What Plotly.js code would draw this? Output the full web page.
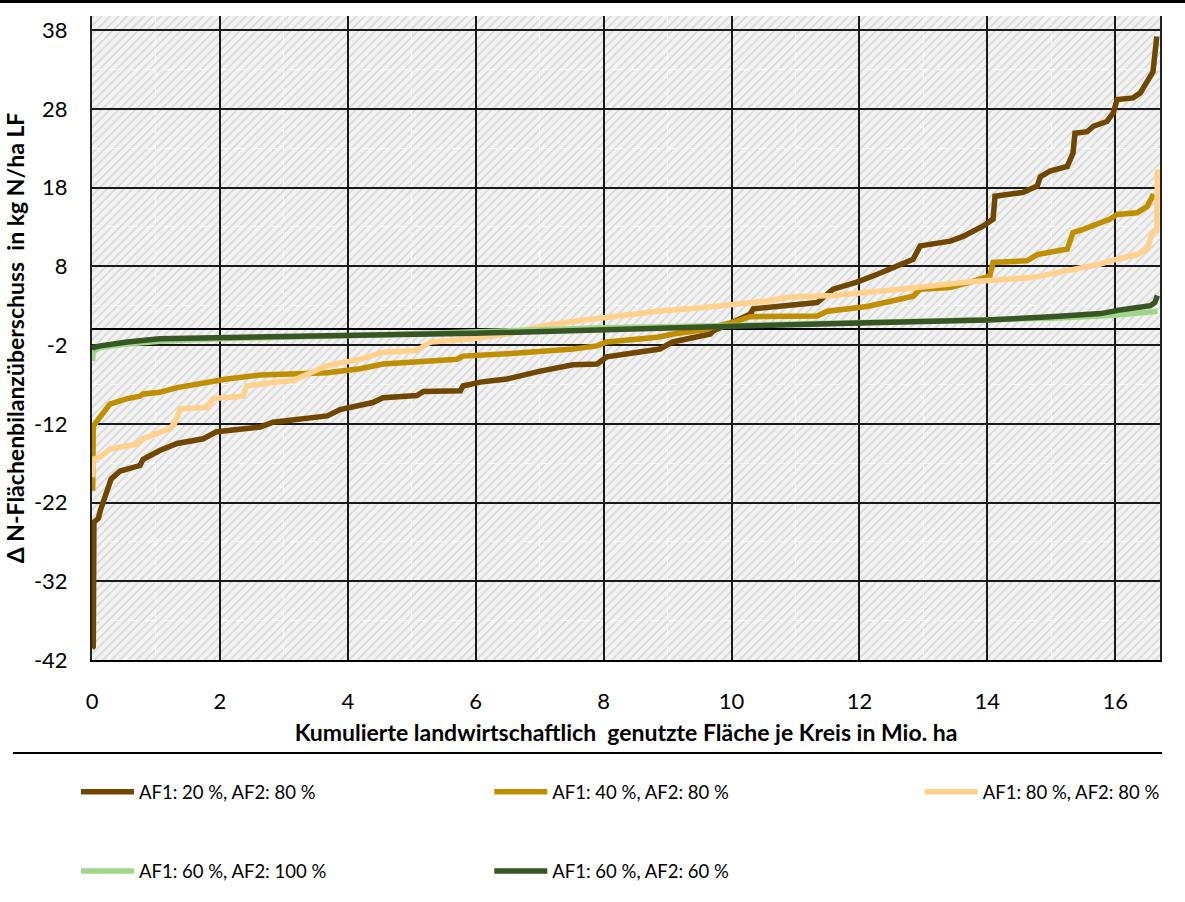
<!DOCTYPE html>
<html>
<head>
<meta charset="utf-8">
<script src="https://cdn.plot.ly/plotly-3.0.1.min.js"></script>
<style>
html,body{margin:0;padding:0;background:#fff;}
#chart{width:1185px;height:902px;}
</style>
</head>
<body>
<div id="chart"></div>
<script>
// ---- Data ----
const seriesNames = [
  "AF1: 20 %, AF2: 80 %",
  "AF1: 40 %, AF2: 80 %",
  "AF1: 80 %, AF2: 80 %",
  "AF1: 60 %, AF2: 100 %",
  "AF1: 60 %, AF2: 60 %"
];

const brownX = [0, 0.02, 0.03, 0.10, 0.13, 0.17, 0.23, 0.30, 0.44, 0.75, 0.80, 1.06, 1.33, 1.74, 1.95, 2.63, 2.83, 3.68, 3.88, 4.19, 4.39, 4.55, 5.08, 5.18, 5.76, 5.80, 6.07, 6.49, 7.01, 7.52, 7.90, 8.05, 8.57, 8.88, 9.08, 9.35, 9.51, 9.67, 9.71, 10.03, 10.29, 10.34, 11.34, 11.59, 11.96, 12.28, 12.64, 12.84, 12.95, 13.42, 13.62, 13.93, 14.09, 14.12, 14.56, 14.78, 14.83, 14.98, 15.25, 15.34, 15.37, 15.56, 15.66, 15.87, 15.97, 16.03, 16.28, 16.39, 16.59, 16.65];
const brownY = [-40.5, -40.3, -24.5, -24.0, -23.0, -22.0, -20.3, -19.0, -18.0, -17.3, -16.5, -15.4, -14.5, -13.9, -13.0, -12.4, -11.8, -11.0, -10.2, -9.7, -9.3, -8.7, -8.4, -7.9, -7.8, -7.2, -6.7, -6.3, -5.3, -4.5, -4.4, -3.5, -2.9, -2.5, -1.6, -1.2, -1.0, -0.6, -0.2, 1.0, 1.9, 2.6, 3.4, 5.1, 6.0, 7.0, 8.3, 8.9, 10.6, 11.2, 11.8, 13.1, 14.0, 16.9, 17.4, 18.2, 19.4, 20.1, 20.7, 22.4, 24.9, 25.1, 25.8, 26.4, 27.5, 29.2, 29.4, 30.0, 32.7, 37.2];

const goldX = [0.01, 0.02, 0.13, 0.23, 0.28, 0.55, 0.75, 0.80, 1.06, 1.33, 1.85, 2.11, 2.63, 3.68, 4.19, 4.55, 5.71, 5.80, 6.49, 7.52, 7.90, 8.05, 8.84, 9.09, 9.62, 9.71, 10.03, 10.29, 11.34, 11.50, 12.12, 12.43, 12.84, 12.95, 13.42, 13.73, 14.04, 14.09, 14.62, 14.78, 15.25, 15.34, 15.50, 15.92, 16.03, 16.34, 16.50, 16.60];
const goldY = [-20.5, -12.3, -11.1, -10.1, -9.5, -8.8, -8.5, -8.2, -8.0, -7.4, -6.7, -6.3, -5.8, -5.5, -5.0, -4.4, -3.8, -3.4, -3.1, -2.5, -2.1, -1.6, -1.0, -0.6, 0.0, 0.3, 0.9, 1.6, 1.7, 2.3, 2.9, 3.4, 4.2, 5.1, 5.3, 6.0, 6.8, 8.5, 8.7, 9.5, 10.2, 12.3, 12.7, 14.0, 14.6, 14.8, 15.6, 17.2];

const peachX = [0.01, 0.02, 0.13, 0.28, 0.55, 0.70, 0.80, 1.06, 1.22, 1.30, 1.38, 1.80, 1.89, 2.36, 2.42, 2.89, 3.14, 3.68, 4.03, 4.19, 4.55, 5.08, 5.29, 5.96, 6.49, 7.01, 7.52, 8.05, 8.57, 8.84, 9.62, 10.13, 10.56, 10.92, 11.59, 12.64, 13.69, 14.72, 15.25, 15.77, 15.92, 16.34, 16.50, 16.58, 16.65, 16.66];
const peachY = [-18.8, -16.5, -16.2, -15.2, -14.8, -14.6, -13.9, -13.0, -12.6, -11.8, -10.1, -9.9, -8.8, -8.5, -7.2, -6.7, -6.5, -4.6, -4.0, -3.8, -2.9, -2.7, -1.6, -1.2, -0.6, 0.4, 1.0, 1.5, 1.9, 2.3, 2.8, 3.2, 3.6, 4.1, 4.3, 5.1, 6.0, 6.6, 7.4, 8.3, 8.7, 9.5, 10.2, 12.3, 12.7, 20.3];

const lightGreenX = [0.01, 0.02, 0.13, 0.50, 1.06, 2.00, 4.00, 6.00, 8.00, 10.00, 12.00, 14.00, 15.00, 16.00, 16.66];
const lightGreenY = [-4.0, -2.8, -2.3, -1.9, -1.5, -1.2, -0.8, -0.3, 0.2, 0.5, 0.8, 1.1, 1.4, 1.8, 2.3];

const darkGreenX = [0.01, 0.02, 0.13, 0.55, 1.06, 2.11, 3.68, 6.00, 8.00, 9.50, 10.00, 12.00, 13.40, 14.00, 15.00, 15.77, 16.10, 16.55, 16.62, 16.66];
const darkGreenY = [-2.6, -2.3, -2.1, -1.6, -1.2, -1.0, -0.8, -0.5, 0.0, 0.3, 0.4, 0.8, 1.0, 1.2, 1.6, 2.0, 2.5, 3.0, 3.4, 4.3];

const xTicks = [0, 2, 4, 6, 8, 10, 12, 14, 16];
const yTicks = [-42, -32, -22, -12, -2, 8, 18, 28, 38];

// ---- Styles ----
const colors = ["#6F4700", "#BF8F00", "#FFD18C", "#A0D68A", "#375623"];
const FONT = "Lato, 'Open Sans', 'DejaVu Sans', sans-serif";

const xs = [brownX, goldX, peachX, lightGreenX, darkGreenX];
const ys = [brownY, goldY, peachY, lightGreenY, darkGreenY];
const legendOf = ["legend", "legend2", "legend3", "legend", "legend2"];

const traces = seriesNames.map((name, i) => ({
  type: "scatter",
  mode: "lines",
  name: name,
  x: xs[i],
  y: ys[i],
  line: {color: colors[i], width: 5.5},
  legend: legendOf[i],
  legendgroup: "g" + i,
  hoverinfo: "x+y+name"
}));

// Hatched plot-area background
const PW = 1068, PH = 644;
const hatchSvg =
  "<svg xmlns='http://www.w3.org/2000/svg' width='" + PW + "' height='" + PH + "'>" +
  "<defs><pattern id='h' width='6' height='6' patternUnits='userSpaceOnUse' patternTransform='rotate(45)'>" +
  "<rect width='6' height='6' fill='#f3f3f3'/><rect width='2' height='6' fill='#dcdcdc'/></pattern></defs>" +
  "<rect width='" + PW + "' height='" + PH + "' fill='url(#h)'/></svg>";

const legendCommon = {
  orientation: "v",
  font: {family: FONT, size: 18.5, color: "#000"},
  bgcolor: "rgba(0,0,0,0)",
  itemwidth: 53,
  tracegroupgap: 52,
  xanchor: "left",
  yanchor: "top",
  traceorder: "grouped",
  itemclick: false,
  itemdoubleclick: false
};

const layout = {
  width: 1185,
  height: 902,
  margin: {l: 92, r: 25, t: 16, b: 242},
  paper_bgcolor: "#ffffff",
  plot_bgcolor: "#ececec",
  font: {family: FONT, size: 22, color: "#000"},
  showlegend: true,
  legend: Object.assign({}, legendCommon, {x: -0.015, y: -0.176}),
  legend2: Object.assign({}, legendCommon, {x: 0.372, y: -0.176}),
  legend3: Object.assign({}, legendCommon, {x: 0.775, y: -0.176}),
  xaxis: {
    range: [0, 16.7],
    tickvals: xTicks,
    ticktext: xTicks.map(String),
    showgrid: true,
    gridcolor: "#1a1a1a",
    gridwidth: 1.5,
    minor: {dtick: 1, tick0: 0, showgrid: true, gridcolor: "rgba(255,255,255,0.75)", gridwidth: 1, griddash: "dash"},
    zeroline: false,
    showline: true,
    linecolor: "#000",
    linewidth: 2,
    ticks: "",
    ticklabelstandoff: 21,
    tickfont: {family: FONT, size: 22, color: "#000"},
    title: {text: "Kumulierte landwirtschaftlich  genutzte Fläche je Kreis in Mio. ha",
            font: {family: FONT, size: 23, color: "#000", weight: "bold"}, standoff: 11},
    automargin: false,
    fixedrange: true
  },
  yaxis: {
    range: [-42, 39.8],
    tickvals: yTicks,
    ticktext: yTicks.map(String),
    showgrid: true,
    gridcolor: "#1a1a1a",
    gridwidth: 1.5,
    minor: {tickvals: yTicks.map(v => v + 5), showgrid: true, gridcolor: "rgba(255,255,255,0.75)", gridwidth: 1, griddash: "dash"},
    zeroline: true,
    zerolinecolor: "#000",
    zerolinewidth: 1.5,
    showline: true,
    mirror: true,
    linecolor: "#222",
    linewidth: 2,
    ticks: "",
    ticklabelstandoff: 18,
    tickfont: {family: FONT, size: 22, color: "#000"},
    title: {text: "Δ N-Flächenbilanzüberschuss  in kg N/ha LF",
            font: {family: FONT, size: 23, color: "#000", weight: "bold"}, standoff: 3},
    automargin: false,
    fixedrange: true
  },
  images: [{
    source: "data:image/svg+xml;charset=utf-8," + encodeURIComponent(hatchSvg),
    xref: "paper", yref: "paper",
    x: 0, y: 1, sizex: 1, sizey: 1,
    xanchor: "left", yanchor: "top",
    sizing: "stretch",
    layer: "below"
  }],
  shapes: [
    {type: "line", xref: "paper", yref: "paper", x0: -0.0862, x1: 1.0235, y0: 1.0225, y1: 1.0225,
     line: {color: "#000", width: 3}},
    {type: "line", xref: "paper", yref: "paper", x0: -0.074, x1: 1.002, y0: -0.1445, y1: -0.1445,
     line: {color: "#000", width: 2}}
  ]
};

Plotly.newPlot("chart", traces, layout, {displayModeBar: false, staticPlot: false});
</script>
</body>
</html>
